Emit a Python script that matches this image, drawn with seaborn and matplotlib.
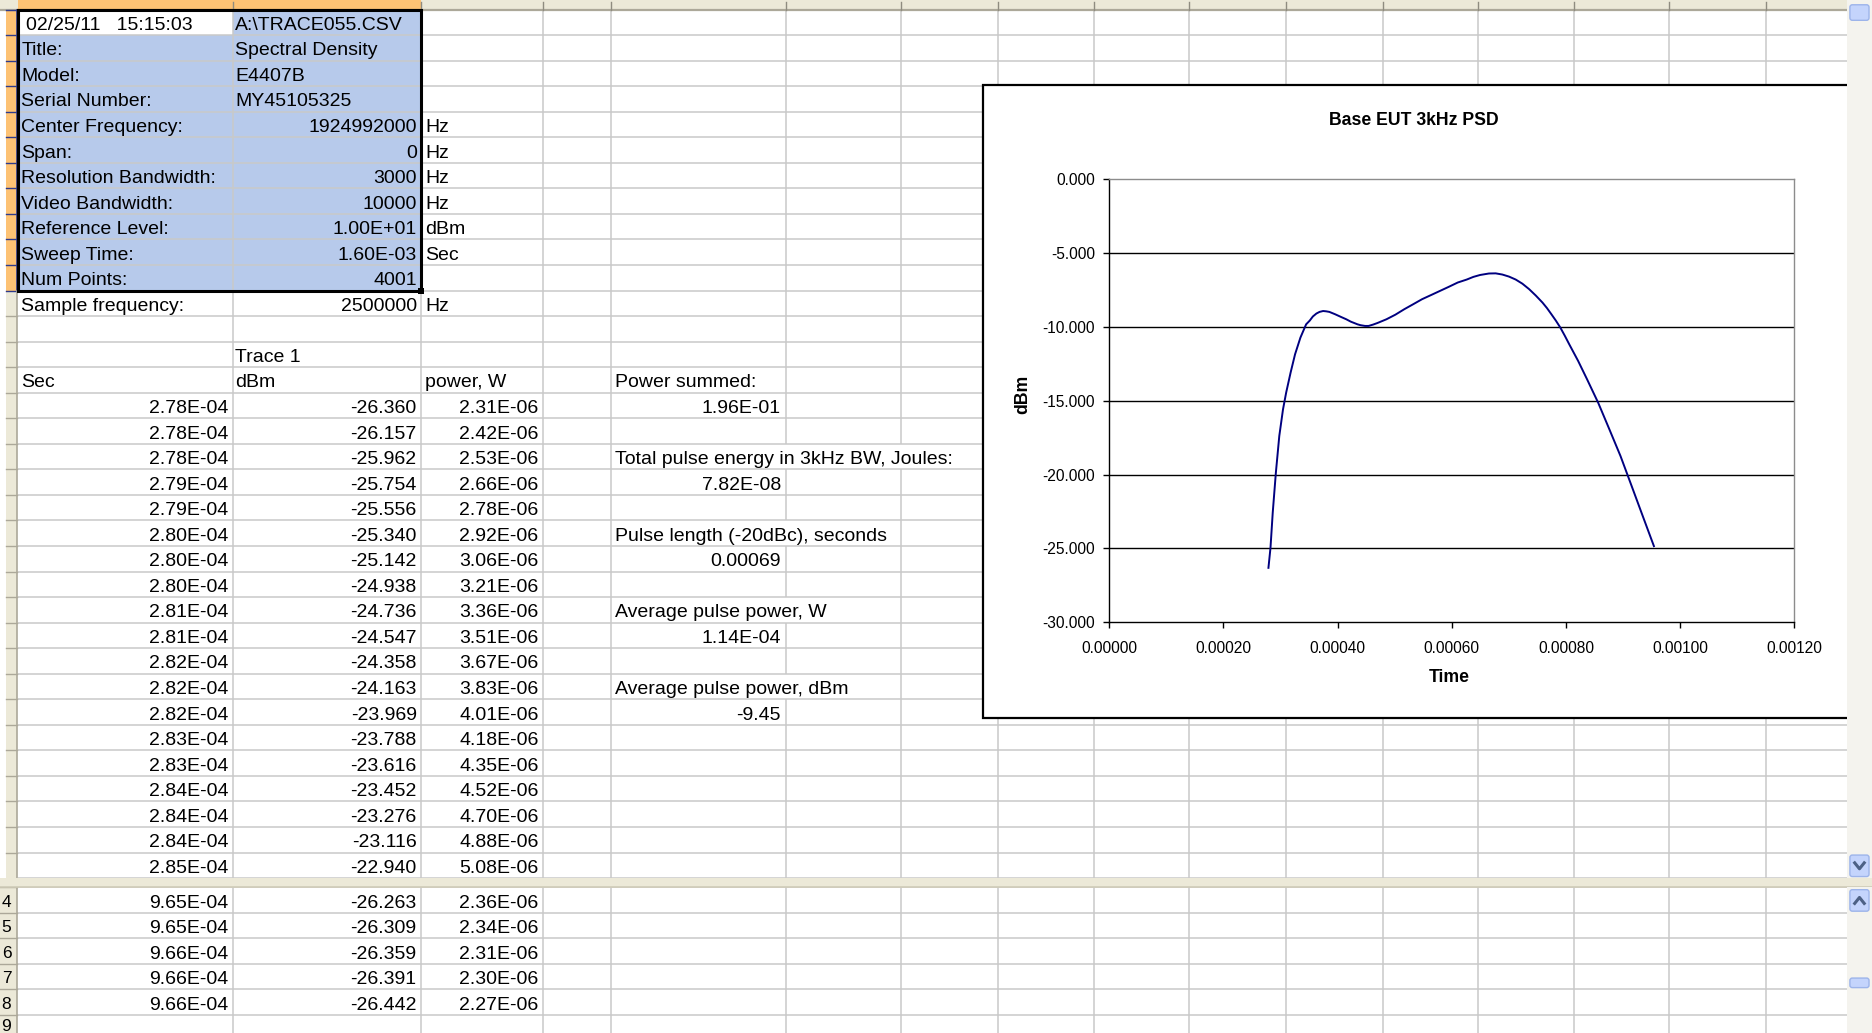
import numpy as np
import pandas as pd
import matplotlib
matplotlib.use("Agg")
import matplotlib.pyplot as plt
import seaborn as sns
from matplotlib.patches import Rectangle, FancyBboxPatch
from matplotlib.collections import LineCollection
from matplotlib.ticker import FuncFormatter
from matplotlib import font_manager

# ---------------- data ----------------
header_labels = ["Title:", "Model:", "Serial Number:", "Center Frequency:", "Span:",
                 "Resolution Bandwidth:", "Video Bandwidth:", "Reference Level:",
                 "Sweep Time:", "Num Points:", "Sample frequency:"]
header_values = ["Spectral Density", "E4407B", "MY45105325", "1924992000", "0",
                 "3000", "10000", "1.00E+01", "1.60E-03", "4001", "2500000"]
header_units = ["", "", "", "Hz", "Hz", "Hz", "Hz", "dBm", "Sec", "", "Hz"]
stamp_text = "02/25/11   15:15:03"
file_text = "A:\\TRACE055.CSV"
col_titles = ["Sec", "dBm", "power, W"]

sec_top = [2.78e-4, 2.78e-4, 2.78e-4, 2.79e-4, 2.79e-4, 2.80e-4, 2.80e-4, 2.80e-4,
           2.81e-4, 2.81e-4, 2.82e-4, 2.82e-4, 2.82e-4, 2.83e-4, 2.83e-4, 2.84e-4,
           2.84e-4, 2.84e-4, 2.85e-4]
dbm_top = [-26.360, -26.157, -25.962, -25.754, -25.556, -25.340, -25.142, -24.938,
           -24.736, -24.547, -24.358, -24.163, -23.969, -23.788, -23.616, -23.452,
           -23.276, -23.116, -22.940]
pw_top = [2.31e-6, 2.42e-6, 2.53e-6, 2.66e-6, 2.78e-6, 2.92e-6, 3.06e-6, 3.21e-6,
          3.36e-6, 3.51e-6, 3.67e-6, 3.83e-6, 4.01e-6, 4.18e-6, 4.35e-6, 4.52e-6,
          4.70e-6, 4.88e-6, 5.08e-6]

bot_rownums = ["4", "5", "6", "7", "8", "9"]
sec_bot = [9.65e-4, 9.65e-4, 9.66e-4, 9.66e-4, 9.66e-4]
dbm_bot = [-26.263, -26.309, -26.359, -26.391, -26.442]
pw_bot = [2.36e-6, 2.34e-6, 2.31e-6, 2.30e-6, 2.27e-6]

summary_labels = ["Power summed:", "Total pulse energy in 3kHz BW, Joules:",
                  "Pulse length (-20dBc), seconds", "Average pulse power, W",
                  "Average pulse power, dBm"]
summary_values = ["1.96E-01", "7.82E-08", "0.00069", "1.14E-04", "-9.45"]

chart_title = "Base EUT 3kHz PSD"
time_s = [0.000279, 0.0002826, 0.0002865, 0.000292, 0.000298, 0.0003045, 0.00031,
          0.0003178, 0.0003256, 0.000335, 0.0003412, 0.000345, 0.0003513, 0.0003568,
          0.000363, 0.0003685, 0.0003747, 0.00038, 0.0003857, 0.0003958, 0.000406,
          0.0004153, 0.0004232, 0.0004349, 0.0004403, 0.0004481, 0.0004544,
          0.0004622, 0.00047, 0.0004856, 0.0005012, 0.0005168, 0.0005325, 0.000548,
          0.0005637, 0.0005793, 0.0005949, 0.0006105, 0.0006262, 0.0006378,
          0.0006496, 0.0006651, 0.0006769, 0.0006886, 0.0007003, 0.000712,
          0.0007237, 0.0007355, 0.0007471, 0.0007589, 0.0007667, 0.0007745,
          0.0007823, 0.0007901, 0.0007979, 0.0008057, 0.0008213, 0.0008369,
          0.0008564, 0.000876, 0.0008955, 0.000915, 0.0009345, 0.000954]
psd_dbm = [-26.32, -24.96, -22.59, -19.88, -17.39, -15.59, -14.46,
           -13.10, -11.86, -10.73, -10.17, -9.83, -9.58, -9.30,
           -9.10, -8.99, -8.93, -8.95, -8.99, -9.15, -9.33,
           -9.49, -9.65, -9.83, -9.89, -9.94, -9.94,
           -9.85, -9.74, -9.49, -9.18, -8.81, -8.47, -8.13,
           -7.85, -7.57, -7.29, -7.00, -6.80, -6.62,
           -6.49, -6.39, -6.38, -6.46, -6.60, -6.80,
           -7.08, -7.45, -7.88, -8.36, -8.73, -9.15,
           -9.58, -10.05, -10.60, -11.18, -12.31, -13.55,
           -15.14, -16.94, -18.75, -20.78, -22.82, -24.85]
x_ticks = [0.0, 0.0002, 0.0004, 0.0006, 0.0008, 0.0010, 0.0012]
y_ticks = [-30, -25, -20, -15, -10, -5, 0]

# ---------------- layout (screen units) ----------------
W, H = 1568.0, 865.0
RH = 21.39
TOP0 = 8.0
SPLIT0, SPLIT1 = TOP0 + 34 * RH, 743.0
col_edges = [15, 195, 353, 455, 512, 658, 755, 836, 916, 996, 1077, 1158, 1238,
             1318, 1398, 1479, 1559]
SB = 1547.0

GRID = "#c9c9c9"
BEIGE = "#ECE9D8"
ORANGE = "#FDC274"
SEL = "#B7CAEB"
HDRLINE = "#ACA899"

names = {f.name for f in font_manager.fontManager.ttflist}
SHEET_FONT = ["Liberation Sans", "DejaVu Sans"]
if "Liberation Sans Narrow" in names:
    CH_FONT = ["Liberation Sans Narrow", "Liberation Sans", "DejaVu Sans"]
    k = 1.0
else:
    CH_FONT = ["Liberation Sans", "DejaVu Sans"]
    k = 0.83
plt.rcParams["font.family"] = CH_FONT

fig = plt.figure(figsize=(18.72, 10.33), dpi=100)
bg = fig.add_axes([0, 0, 1, 1])
bg.set_xlim(0, W)
bg.set_ylim(H, 0)
bg.axis("off")


def rtop(i):
    return TOP0 + (i - 1) * RH


def rc(i):
    return rtop(i) + RH / 2


def btop(j):
    return SPLIT1 + j * RH


FS = 14


def cell_text(x, yc, s, ha="left", color="black", fs=FS):
    bg.text(x, yc + 6.3, s, ha=ha, va="baseline", fontsize=fs, family=SHEET_FONT,
            color=color, zorder=10)


# selection fill A2:A11, B1:B11
bg.add_patch(Rectangle((15, rtop(2)), 180, rtop(12) - rtop(2), fc=SEL, ec="none", zorder=1))
bg.add_patch(Rectangle((195, rtop(1)), 158, rtop(12) - rtop(1), fc=SEL, ec="none", zorder=1))

# grid lines
skip = {18: {658, 755}, 21: {658}, 24: {658}, 27: {658}}
segs = []
for i in range(0, 35):
    y = TOP0 + i * RH
    segs.append([(15, y), (SB, y)])
for i in range(1, 35):
    for x in col_edges[1:]:
        if x in skip.get(i, set()):
            continue
        segs.append([(x, rtop(i)), (x, rtop(i) + RH)])
for j in range(0, 7):
    y = btop(j)
    segs.append([(14, y), (SB, y)])
for x in col_edges[1:]:
    segs.append([(x, SPLIT1), (x, H)])
bg.add_collection(LineCollection(segs, colors=GRID, linewidths=1.1, zorder=2))

# column header
bg.add_patch(Rectangle((0, 0), SB, TOP0, fc=BEIGE, ec="none", zorder=3))
bg.add_patch(Rectangle((15, 0), 338, TOP0, fc=ORANGE, ec="none", zorder=3))
bg.plot([0, SB], [TOP0, TOP0], color=HDRLINE, lw=1.6, zorder=4)
bg.plot([15, 353], [TOP0, TOP0], color="#C8852E", lw=1.6, zorder=4)
for x in col_edges[1:]:
    bg.plot([x, x], [1.5, TOP0], color="#8f8c80", lw=1.0, zorder=4)

# row header top pane
bg.add_patch(Rectangle((5, TOP0), 9, SPLIT0 - TOP0, fc=BEIGE, ec="none", zorder=3))
bg.add_patch(Rectangle((5, TOP0), 9, rtop(12) - TOP0, fc=ORANGE, ec="none", zorder=3))
for i in range(1, 35):
    c = "#2E3A8C" if i <= 12 else HDRLINE
    bg.plot([5, 14], [rtop(i), rtop(i)], color=c, lw=1.0, zorder=4)
bg.plot([14, 14], [TOP0, rtop(12)], color="#2E3A8C", lw=1.2, zorder=4)
bg.plot([14, 14], [rtop(12), SPLIT0], color=HDRLINE, lw=1.2, zorder=4)

# split bar
bg.add_patch(Rectangle((0, SPLIT0), W, SPLIT1 - SPLIT0, fc=BEIGE, ec="none", zorder=25))
bg.plot([0, W], [SPLIT1, SPLIT1], color="#cfcbb8", lw=1.2, zorder=26)

# row header bottom pane
bg.add_patch(Rectangle((0, SPLIT1), 14, H - SPLIT1, fc=BEIGE, ec="none", zorder=3))
for j in range(0, 7):
    bg.plot([0, 14], [btop(j), btop(j)], color=HDRLINE, lw=1.0, zorder=4)
bg.plot([14, 14], [SPLIT1, H], color=HDRLINE, lw=1.2, zorder=4)
for j, s in enumerate(bot_rownums):
    ybase = min(btop(j) + RH / 2 + 5.6, H - 1.5)
    bg.text(9.5, ybase, s, ha="right", va="baseline", fontsize=12.5,
            family=SHEET_FONT, color="black", zorder=5)

# header block text
cell_text(21.5, rc(1), stamp_text)
cell_text(197, rc(1), file_text)
for n, (lab, val, unit) in enumerate(zip(header_labels, header_values, header_units)):
    i = n + 2
    cell_text(18, rc(i), lab)
    if n < 3:
        cell_text(197, rc(i), val)
    else:
        cell_text(349, rc(i), val, ha="right")
    if unit:
        cell_text(356, rc(i), unit)
cell_text(197, rc(14), "Trace 1")
cell_text(18, rc(15), col_titles[0])
cell_text(197, rc(15), col_titles[1])
cell_text(356, rc(15), col_titles[2])

for n, (s, d, p) in enumerate(zip(sec_top, dbm_top, pw_top)):
    i = 16 + n
    cell_text(191.5, rc(i), "{:.2E}".format(s), ha="right")
    cell_text(349, rc(i), "{:.3f}".format(d), ha="right")
    cell_text(451, rc(i), "{:.2E}".format(p), ha="right")

for j, (s, d, p) in enumerate(zip(sec_bot, dbm_bot, pw_bot)):
    yc = btop(j) + RH / 2
    cell_text(191.5, yc, "{:.2E}".format(s), ha="right")
    cell_text(349, yc, "{:.3f}".format(d), ha="right")
    cell_text(451, yc, "{:.2E}".format(p), ha="right")

for n, (lab, val) in enumerate(zip(summary_labels, summary_values)):
    i = 15 + 3 * n
    cell_text(515, rc(i), lab)
    cell_text(654, rc(i + 1), val, ha="right")

# selection border + fill handle
bg.add_patch(Rectangle((15, TOP0), 338, rtop(12) - TOP0, fill=False, ec="black", lw=2.2, zorder=12))
bg.add_patch(Rectangle((350.5, rtop(12) - 2.5), 5, 5, fc="black", ec="none", zorder=13))

# chart area box
bg.add_patch(Rectangle((823, 71), 760, 530, fc="white", ec="black", lw=1.6, zorder=20))

# scrollbar
bg.add_patch(Rectangle((SB, 0), W - SB, SPLIT0, fc="#F4F3EE", ec="none", zorder=30))
bg.add_patch(Rectangle((SB, SPLIT1), W - SB, H - SPLIT1, fc="#F4F3EE", ec="none", zorder=30))


def sbutton(y0, y1):
    bg.add_patch(FancyBboxPatch((SB + 2.5, y0), W - SB - 5, y1 - y0,
                                boxstyle="round,pad=0,rounding_size=2",
                                fc="#C4D4FC", ec="#9DB4EA", lw=1.0, zorder=31))


sbutton(4, 17)
sbutton(716, 734)
sbutton(745, 763)
sbutton(819, 827)
xc = (SB + W) / 2
bg.plot([xc - 4, xc, xc + 4], [722.5, 727.5, 722.5], color="#4D6185", lw=2.2, zorder=32)
bg.plot([xc - 4, xc, xc + 4], [756.5, 751.5, 756.5], color="#4D6185", lw=2.2, zorder=32)

# ---------------- the chart ----------------
ax = fig.add_axes([929 / W, 1 - 521 / H, (1503 - 929) / W, (521 - 150) / H])
df = pd.DataFrame({"Time": time_s, "dBm": psd_dbm})
sns.lineplot(data=df, x="Time", y="dBm", ax=ax, color="#000080", lw=1.4,
             estimator=None, sort=False)
ax.set_facecolor("white")
ax.set_xlim(x_ticks[0], x_ticks[-1])
ax.set_ylim(y_ticks[0], y_ticks[-1])
ax.set_xticks(x_ticks)
ax.set_yticks(y_ticks)
ax.xaxis.set_major_formatter(FuncFormatter(lambda v, p: "{:.5f}".format(v)))
ax.yaxis.set_major_formatter(FuncFormatter(lambda v, p: "{:.3f}".format(v)))
ax.tick_params(axis="both", direction="out", length=4, width=1.0, color="black",
               labelsize=13.5 * k, labelcolor="black")
ax.tick_params(axis="x", pad=9.5)
ax.tick_params(axis="y", pad=6.3)
ax.yaxis.grid(True, color="black", lw=1.0)
ax.xaxis.grid(False)
gl = ax.yaxis.get_gridlines()
gl[-1].set_visible(False)
gl[0].set_visible(False)
for s in ["left", "bottom"]:
    ax.spines[s].set_color("black")
    ax.spines[s].set_linewidth(1.0)
for s in ["top", "right"]:
    ax.spines[s].set_color("#8c8c8c")
    ax.spines[s].set_linewidth(1.0)
ax.set_xlabel("Time", fontsize=15.3 * k, fontweight="bold")
ax.set_ylabel("dBm", fontsize=15.3 * k, fontweight="bold")
ax.xaxis.label.set_va("center")
ax.yaxis.label.set_va("center")
ax.xaxis.set_label_coords((1214 - 929) / 574, -(567 - 521) / 371)
ax.yaxis.set_label_coords((857 - 929) / 574, (521 - 330) / 371)
ax.text((1184 - 929) / 574, (521 - 101) / 371, chart_title, transform=ax.transAxes,
        ha="center", va="center", fontsize=15.3 * k, fontweight="bold")

fig.savefig("out.png", dpi=100)
